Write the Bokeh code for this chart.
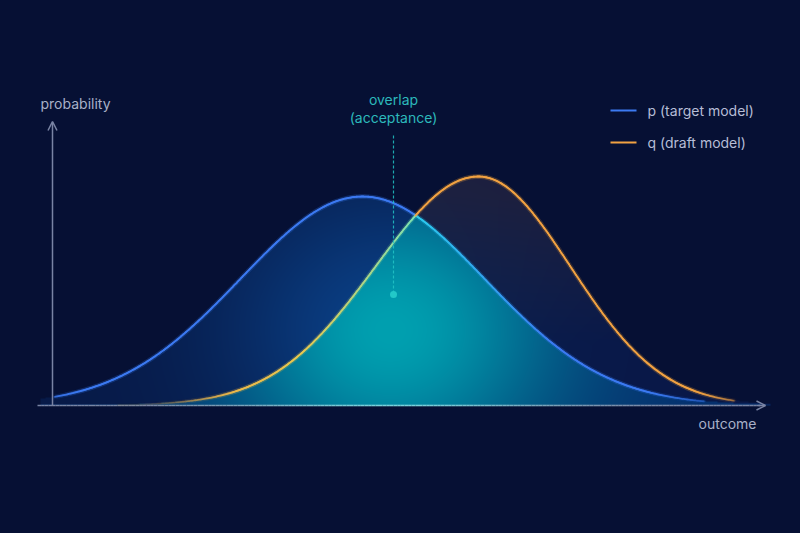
import numpy as np
from bokeh.plotting import figure
from bokeh.models import Range1d, Arrow, OpenHead
from bokeh.embed import file_html
from bokeh.resources import INLINE
from bokeh.core.properties import value

# ---- data: the two distributions (parameters) ----
p_mean, p_sd, p_peak = 0.0, 1.22, 0.418            # p (target model)
q_mean, q_sd_left, q_sd_right, q_peak = 1.16, 1.03, 0.92, 0.458   # q (draft model)
series_labels = ["p (target model)", "q (draft model)"]
axis_labels = ["probability", "outcome"]
overlap_labels = ["overlap", "(acceptance)"]

BG = "#061034"
BLUE = (60, 122, 242)
ORANGE = (242, 162, 66)
AXIS = "#7a84a4"
TEAL_TXT = "#2cb9bb"
LEG_TXT = "#b6bdd6"
FONT = "Inter"


def p_density(x):
    return p_peak * np.exp(-0.5 * ((x - p_mean) / p_sd) ** 2)


def q_density(x):
    sd = np.where(x < q_mean, q_sd_left, q_sd_right)
    return q_peak * np.exp(-0.5 * ((x - q_mean) / sd) ** 2)


def hexc(c):
    c = np.clip(np.asarray(c), 0, 255).astype(int)
    return "#%02x%02x%02x" % tuple(c)


def lerp(a, b, t):
    a = np.asarray(a, float)
    b = np.asarray(b, float)
    return a + (b - a) * t


# crossing point of the two curves
xs_c = np.linspace(-1, 2, 3001)
d = p_density(xs_c) - q_density(xs_c)
x_cross = xs_c[np.where(np.diff(np.sign(d)) != 0)[0][0]]

fig = figure(width=800, height=533, x_range=Range1d(-3.62, 4.38),
             y_range=Range1d(-0.256, 0.81), output_backend="svg",
             toolbar_location=None, min_border=0, background_fill_color=BG,
             border_fill_color=BG, outline_line_color=None,
             x_axis_type=None, y_axis_type=None)

# ---- filled areas with glow (raster built from the densities) ----
x0, x1, y0, y1 = -3.22, 4.08, 0.0, 0.52
nx, ny = 730, 260
xc = np.linspace(x0, x1, nx)
yc = np.linspace(y0, y1, ny)
X, Y = np.meshgrid(xc, yc)
P = p_density(X)
Q = q_density(X)
M = np.minimum(P, Q)
g = np.exp(-(((X - 0.28) / 1.55) ** 2 + ((Y - 0.15) / 0.27) ** 2))
ov = Y <= M
ponly = (Y > M) & (Y <= P)
qonly = (Y > M) & (Y <= Q)

rgb = np.zeros((ny, nx, 3))
t = (g ** 0.8)[..., None]
rgb_ov = lerp((6, 46, 108), (0, 160, 176), t)
rgb_p = lerp((7, 26, 72), (10, 64, 134), (g ** 0.9)[..., None])
v = np.clip((Y - 0.12) / 0.30, 0, 1)[..., None]
rgb_q = lerp((9, 24, 72), (30, 30, 60), v)
rgb_q = lerp(rgb_q, (14, 56, 104), (0.35 * g)[..., None])
rgb[ov] = rgb_ov[ov]
rgb[ponly] = rgb_p[ponly]
rgb[qonly] = rgb_q[qonly]
alpha = np.where(ov | ponly | qonly, 255, 0)

img = np.zeros((ny, nx), dtype=np.uint32)
view = img.view(dtype=np.uint8).reshape((ny, nx, 4))
view[..., 0] = rgb[..., 0].astype(np.uint8)
view[..., 1] = rgb[..., 1].astype(np.uint8)
view[..., 2] = rgb[..., 2].astype(np.uint8)
view[..., 3] = alpha.astype(np.uint8)
fig.image_rgba(image=[img], x=x0, y=y0, dw=x1 - x0, dh=y1 - y0)

# ---- x axis (lit by the glow near the overlap) ----
ax_x = np.linspace(-3.25, 3.98, 200)
ax_cols = []
for xm in (ax_x[:-1] + ax_x[1:]) / 2:
    k = np.exp(-((xm - 0.3) / 1.6) ** 2)
    ax_cols.append(hexc(lerp((122, 132, 164), (120, 210, 220), k)))
fig.segment(x0=ax_x[:-1], y0=0, x1=ax_x[1:], y1=0, line_color=ax_cols,
            line_width=1.6)
fig.add_layout(Arrow(end=OpenHead(size=9, line_color=AXIS, line_width=1.5),
                     x_start=3.96, y_start=0, x_end=4.03, y_end=0,
                     line_color=AXIS, line_width=1.5))
fig.add_layout(Arrow(end=OpenHead(size=9, line_color=AXIS, line_width=1.5),
                     x_start=-3.10, y_start=0, x_end=-3.10, y_end=0.568,
                     line_color=AXIS, line_width=1.5))

# ---- curves with per-segment colours ----
xp = np.linspace(-3.08, 3.42, 500)
yp = p_density(xp)
xm = (xp[:-1] + xp[1:]) / 2
pc, pa = [], []
for xv in xm:
    if xv < x_cross:
        c = BLUE
    else:
        k = np.clip((xv - x_cross) / 1.4, 0, 1)
        c = lerp((44, 205, 238), BLUE, k)
    pc.append(hexc(c))
    pa.append(float(np.clip(p_density(xv) / 0.03, 0.05, 1)))
fig.segment(x0=xp[:-1], y0=yp[:-1], x1=xp[1:], y1=yp[1:], line_color=pc,
            line_alpha=[a * 0.08 for a in pa], line_width=5, line_cap="round")
fig.segment(x0=xp[:-1], y0=yp[:-1], x1=xp[1:], y1=yp[1:], line_color=pc,
            line_alpha=pa, line_width=1.8, line_cap="round")

xq = np.linspace(-2.45, 3.72, 500)
yq = q_density(xq)
xm = (xq[:-1] + xq[1:]) / 2
qc, qa = [], []
for xv in xm:
    if xv < x_cross:
        if xv < -0.6:
            k = np.clip((xv + 2.2) / 1.6, 0, 1)
            c = lerp(ORANGE, (232, 200, 80), k)
        else:
            k = np.clip((xv + 0.6) / (x_cross + 0.6), 0, 1)
            c = lerp((232, 200, 80), (125, 226, 178), k)
    else:
        c = ORANGE
    qc.append(hexc(c))
    qa.append(float(np.clip(q_density(xv) / 0.03, 0.05, 1)))
fig.segment(x0=xq[:-1], y0=yq[:-1], x1=xq[1:], y1=yq[1:], line_color=qc,
            line_alpha=[a * 0.08 for a in qa], line_width=5, line_cap="round")
fig.segment(x0=xq[:-1], y0=yq[:-1], x1=xq[1:], y1=yq[1:], line_color=qc,
            line_alpha=qa, line_width=1.8, line_cap="round")

# ---- overlap annotation ----
fig.segment(x0=[0.31], y0=[0.54], x1=[0.31], y1=[0.222], line_color="#22c4c6",
            line_width=1.2, line_dash="3 2", line_alpha=0.85)
fig.scatter(x=[0.31], y=[0.222], size=7, fill_color="#22c8c8",
            line_color=None)
fig.text(x=[0.31, 0.31], y=[0.612, 0.576], text=overlap_labels,
         text_font=value(FONT), text_font_size="14px", text_color=TEAL_TXT,
         text_align="center", text_baseline="middle")

# ---- axis labels ----
fig.text(x=[-3.22], y=[0.604], text=[axis_labels[0]], text_font=value(FONT),
         text_font_size="14px", text_color="#a9b0c8", text_align="left",
         text_baseline="middle")
fig.text(x=[3.94], y=[-0.036], text=[axis_labels[1]], text_font=value(FONT),
         text_font_size="14px", text_color="#a9b0c8", text_align="right",
         text_baseline="middle")

# ---- legend ----
leg_y = [0.59, 0.526]
fig.segment(x0=[2.48, 2.48], y0=leg_y, x1=[2.74, 2.74], y1=leg_y,
            line_color=[hexc(BLUE), hexc(ORANGE)], line_width=2.2)
fig.text(x=[2.85, 2.85], y=leg_y, text=series_labels, text_font=value(FONT),
         text_font_size="14px", text_color=LEG_TXT, text_align="left",
         text_baseline="middle")

html = file_html(fig, INLINE)
html = html.replace(
    "<head>",
    "<head><style>html,body{margin:0;padding:0;overflow:hidden;"
    "background:#061034;}</style>", 1)
open("out.html", "w").write(html)
